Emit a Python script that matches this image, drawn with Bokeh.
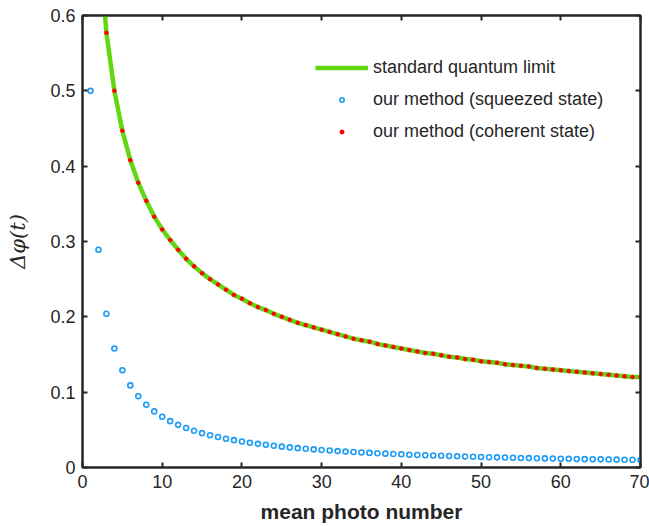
from bokeh.plotting import figure
from bokeh.models import (LinearAxis, FixedTicker, Legend, LegendItem, ColumnDataSource,
                          CustomJSTickFormatter)
from bokeh.embed import file_html
from bokeh.resources import INLINE

# Mean photon number
n_line = list(range(1, 71))
n_coherent = list(range(3, 71))
n_squeezed = list(range(1, 71))

# Standard quantum limit values for n = 1..70
sql_values = [
    1.000, 0.707, 0.577, 0.500, 0.447, 0.408, 0.378, 0.354, 0.333, 0.316,
    0.302, 0.289, 0.277, 0.267, 0.258, 0.250, 0.243, 0.236, 0.229, 0.224,
    0.218, 0.213, 0.209, 0.204, 0.200, 0.196, 0.192, 0.189, 0.186, 0.183,
    0.180, 0.177, 0.174, 0.171, 0.169, 0.167, 0.164, 0.162, 0.160, 0.158,
    0.156, 0.154, 0.152, 0.151, 0.149, 0.147, 0.146, 0.144, 0.143, 0.141,
    0.140, 0.139, 0.137, 0.136, 0.135, 0.134, 0.132, 0.131, 0.130, 0.129,
    0.128, 0.127, 0.126, 0.125, 0.124, 0.123, 0.122, 0.121, 0.120, 0.120,
]

# Coherent-state estimates for n = 3..70
coherent_values = [
    0.577, 0.500, 0.447, 0.408, 0.378, 0.354, 0.333, 0.316,
    0.302, 0.289, 0.277, 0.267, 0.258, 0.250, 0.243, 0.236, 0.229, 0.224,
    0.218, 0.213, 0.209, 0.204, 0.200, 0.196, 0.192, 0.189, 0.186, 0.183,
    0.180, 0.177, 0.174, 0.171, 0.169, 0.167, 0.164, 0.162, 0.160, 0.158,
    0.156, 0.154, 0.152, 0.151, 0.149, 0.147, 0.146, 0.144, 0.143, 0.141,
    0.140, 0.139, 0.137, 0.136, 0.135, 0.134, 0.132, 0.131, 0.130, 0.129,
    0.128, 0.127, 0.126, 0.125, 0.124, 0.123, 0.122, 0.121, 0.120, 0.120,
]

# Squeezed-state estimates for n = 1..70
squeezed_values = [
    0.500, 0.289, 0.204, 0.158, 0.129, 0.109, 0.0945, 0.0833, 0.0745, 0.0674,
    0.0615, 0.0566, 0.0524, 0.0488, 0.0456, 0.0429, 0.0404, 0.0382, 0.0363, 0.0345,
    0.0329, 0.0314, 0.0301, 0.0289, 0.0277, 0.0267, 0.0257, 0.0248, 0.0240, 0.0232,
    0.0225, 0.0218, 0.0211, 0.0205, 0.0199, 0.0194, 0.0189, 0.0184, 0.0179, 0.0175,
    0.0170, 0.0166, 0.0163, 0.0159, 0.0155, 0.0152, 0.0149, 0.0146, 0.0143, 0.0140,
    0.0137, 0.0135, 0.0132, 0.0130, 0.0127, 0.0125, 0.0123, 0.0121, 0.0119, 0.0117,
    0.0115, 0.0113, 0.0111, 0.0110, 0.0108, 0.0106, 0.0105, 0.0103, 0.0102, 0.0100,
]

x_ticks = [0, 10, 20, 30, 40, 50, 60, 70]
y_ticks = [0, 0.1, 0.2, 0.3, 0.4, 0.5, 0.6]

AX = "#262626"
FONT = "Liberation Sans"

p = figure(width=649, height=526, output_backend="svg", toolbar_location=None,
           x_range=(0, 70), y_range=(0, 0.6),
           min_border_left=82, min_border_right=9, min_border_top=15, min_border_bottom=59)
p.background_fill_color = "white"
p.border_fill_color = "white"
p.grid.visible = False
p.outline_line_color = AX
p.outline_line_width = 2

for ax in (p.xaxis[0], p.yaxis[0]):
    ax.major_tick_in = 5
    ax.major_tick_out = 0
    ax.minor_tick_line_color = None
    ax.axis_line_color = AX
    ax.axis_line_width = 2
    ax.major_tick_line_color = AX
    ax.major_tick_line_width = 2
    ax.major_label_text_font = FONT
    ax.major_label_text_font_size = "18px"
    ax.major_label_text_color = AX

p.xaxis[0].ticker = FixedTicker(ticks=x_ticks)
p.yaxis[0].ticker = FixedTicker(ticks=y_ticks)
p.xaxis[0].major_label_standoff = 7
p.yaxis[0].major_label_standoff = 7

p.xaxis[0].axis_label = "mean photo number"
p.xaxis[0].axis_label_text_font = FONT
p.xaxis[0].axis_label_text_font_style = "bold"
p.xaxis[0].axis_label_text_font_size = "21px"
p.xaxis[0].axis_label_text_color = AX
p.xaxis[0].axis_label_standoff = 9

p.yaxis[0].axis_label = "Δφ(t)"
p.yaxis[0].axis_label_text_font = "DejaVu Serif"
p.yaxis[0].axis_label_text_font_style = "italic"
p.yaxis[0].axis_label_text_font_size = "21px"
p.yaxis[0].axis_label_text_color = AX
p.yaxis[0].axis_label_standoff = 17

# Mirrored tick marks on the top and right edges of the box (no labels)
blank = CustomJSTickFormatter(code="return ''")
top = LinearAxis(ticker=FixedTicker(ticks=x_ticks), formatter=blank,
                 major_tick_in=5, major_tick_out=0, minor_tick_line_color=None,
                 axis_line_color=AX, axis_line_width=2, major_tick_line_color=AX,
                 major_tick_line_width=2, major_label_standoff=0)
right = LinearAxis(ticker=FixedTicker(ticks=y_ticks), formatter=blank,
                   major_tick_in=5, major_tick_out=0, minor_tick_line_color=None,
                   axis_line_color=AX, axis_line_width=2, major_tick_line_color=AX,
                   major_tick_line_width=2, major_label_standoff=0)
p.add_layout(top, "above")
p.add_layout(right, "right")

sql_src = ColumnDataSource(dict(x=n_line, y=sql_values))
coh_src = ColumnDataSource(dict(x=n_coherent, y=coherent_values))
sq_src = ColumnDataSource(dict(x=n_squeezed, y=squeezed_values))

r_line = p.line("x", "y", source=sql_src, line_color="#62D610", line_width=4.5)
r_sq = p.scatter("x", "y", source=sq_src, marker="circle", size=5,
                 line_color="#1A9BF5", line_width=1.6, fill_color=None)
r_coh = p.scatter("x", "y", source=coh_src, marker="circle", size=4,
                  line_color="#FF0000", fill_color="#FF0000", line_width=0.5)

legend = Legend(items=[
    LegendItem(label="standard quantum limit", renderers=[r_line]),
    LegendItem(label="our method (squeezed state)", renderers=[r_sq]),
    LegendItem(label="our method (coherent state)", renderers=[r_coh]),
], location=(233, 325))
legend.border_line_color = None
legend.background_fill_alpha = 0
legend.label_text_font = FONT
legend.label_text_font_size = "18px"
legend.label_text_color = AX
legend.glyph_width = 53
legend.glyph_height = 11
legend.label_height = 22
legend.spacing = 10
legend.padding = 0
legend.margin = 0
legend.label_standoff = 5
p.add_layout(legend, "center")

open("out.html", "w").write(file_html(p, INLINE))
